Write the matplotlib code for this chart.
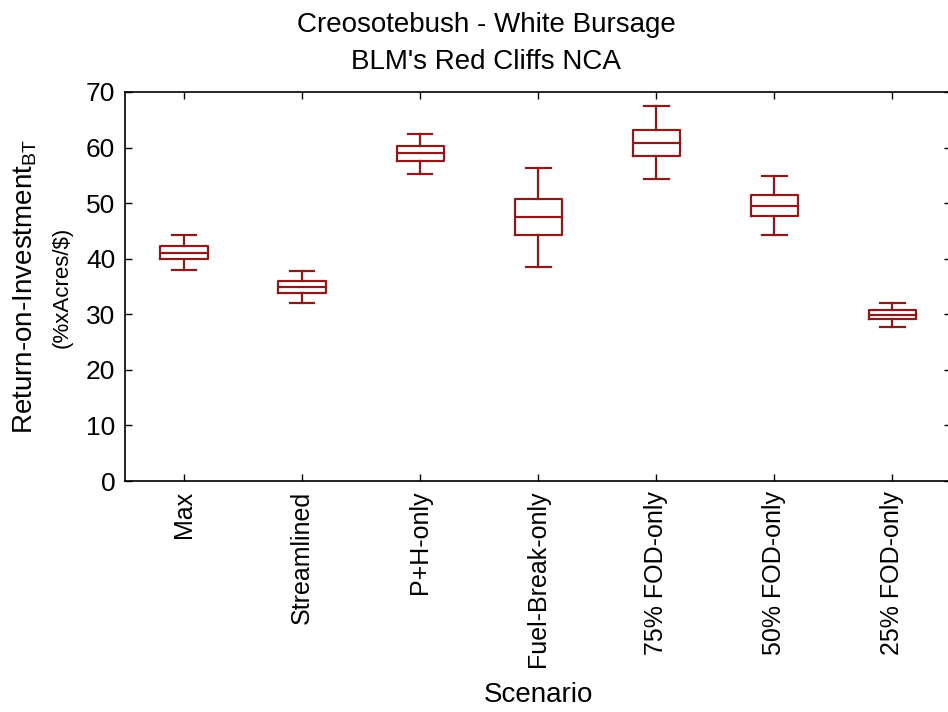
import matplotlib
matplotlib.use("Agg")
import matplotlib.pyplot as plt

plt.rcParams["font.family"] = ["Liberation Sans", "DejaVu Sans"]

# scenario names and box statistics (ROI, %xAcres/$)
scenarios = ["Max", "Streamlined", "P+H-only", "Fuel-Break-only",
             "75% FOD-only", "50% FOD-only", "25% FOD-only"]
whisker_low = [38.0, 32.1, 55.2, 38.6, 54.3, 44.2, 27.7]
q1 = [39.9, 33.9, 57.6, 44.3, 58.5, 47.6, 29.1]
median = [41.1, 35.0, 59.0, 47.5, 60.9, 49.5, 29.9]
q3 = [42.3, 36.0, 60.2, 50.7, 63.2, 51.4, 30.7]
whisker_high = [44.3, 37.8, 62.5, 56.3, 67.4, 54.8, 32.1]

yticks = [0, 10, 20, 30, 40, 50, 60, 70]

box_color = "#8b1a1a"

fig = plt.figure(figsize=(9.48, 7.12), dpi=100)
ax = fig.add_axes([0.1319, 0.3244, 0.8715, 0.5464])

stats = []
for name, lo, a, m, b, hi in zip(scenarios, whisker_low, q1, median, q3, whisker_high):
    stats.append({"label": name, "whislo": lo, "q1": a, "med": m,
                  "q3": b, "whishi": hi, "fliers": []})

line = dict(color=box_color, linewidth=1.6)
ax.bxp(stats, positions=range(len(stats)), widths=0.4, showfliers=False,
       boxprops=line, medianprops=line, whiskerprops=line, capprops=line,
       capwidths=0.21)

ax.set_xlim(-0.5, len(scenarios) - 0.5)
ax.set_ylim(0, 70)
ax.set_yticks(yticks)
ax.set_xticks(range(len(scenarios)))
ax.set_xticklabels(scenarios, rotation=90, fontsize=18)
ax.tick_params(axis="y", labelsize=19, pad=7)
ax.tick_params(axis="x", pad=7)
ax.tick_params(direction="in", top=True, right=True, length=5, width=1)
for s in ax.spines.values():
    s.set_linewidth(1.2)

# x label sits in a fixed spot below the rotated scenario names
ax.set_xlabel("Scenario", fontsize=20, va="center")
ax.xaxis.set_label_coords(0.5675, 0.024, transform=fig.transFigure)

fig.text(0.027, 0.597, r"Return-on-Investment$_{\mathregular{BT}}$",
         rotation=90, fontsize=20, ha="center", va="center")
fig.text(0.066, 0.597, "(%xAcres/$)", rotation=90, fontsize=16,
         ha="center", va="center")

fig.text(0.513, 0.965, "Creosotebush - White Bursage", fontsize=20,
         ha="center", va="center")
fig.text(0.513, 0.913, "BLM's Red Cliffs NCA", fontsize=20,
         ha="center", va="center")

fig.savefig("out.png", dpi=100)
